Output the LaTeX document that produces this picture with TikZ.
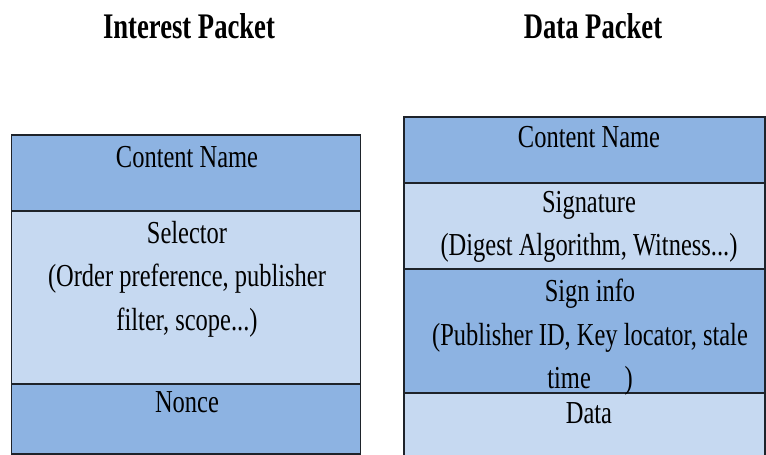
\documentclass[tikz,border=0pt]{standalone}
\usepackage{graphicx}
\usepackage{fontspec}
\setmainfont{Liberation Serif}
\newcommand{\sqz}[1]{\scalebox{0.765}[1]{#1}}
\newcommand{\sqt}[1]{\scalebox{0.74}[1]{#1}}
\definecolor{cellDark}{HTML}{8DB3E2}
\definecolor{cellLight}{HTML}{C6D9F1}
\definecolor{edgeCol}{HTML}{1E232A}
\tikzset{
  cellbox/.style={draw=edgeCol, line width=1.6pt},
  celltext/.style={anchor=north, inner sep=0pt, align=center, text=black,
    font=\fontsize{32}{43.5}\selectfont},
  titletext/.style={anchor=base, inner sep=0pt, text=black,
    font=\bfseries\fontsize{36}{40}\selectfont},
}
\begin{document}
\begin{tikzpicture}[x=1pt, y=-1pt]
\useasboundingbox (0,0) rectangle (766,455);
% titles
\node[titletext] (tInt) at (189,38) {\sqt{Interest Packet}};
\node[titletext] (tData) at (593,38) {\sqt{Data Packet}};
% Interest packet cells
\fill[cellDark]  (11.5,135) rectangle (360.5,211);
\fill[cellLight] (11.5,211) rectangle (360.5,384);
\fill[cellDark]  (11.5,384) rectangle (360.5,454);
\draw[cellbox] (11.5,135) rectangle (360.5,454);
\draw[cellbox] (11.5,211) -- (360.5,211);
\draw[cellbox] (11.5,384) -- (360.5,384);
\node[celltext] (iName) at (187,146) {\sqz{Content Name}};
\node[celltext] (iSel) at (187,221) {\sqz{Selector}\\\sqz{(Order preference, publisher}\\\sqz{filter, scope...)}};
\node[celltext] (iNonce) at (187,391) {\sqz{Nonce}};
% Data packet cells
\fill[cellDark]  (404,117) rectangle (765,183);
\fill[cellLight] (404,183) rectangle (765,269);
\fill[cellDark]  (404,269) rectangle (765,393);
\fill[cellLight] (404,393) rectangle (765,458);
\draw[cellbox] (404,458) -- (404,117) -- (765,117) -- (765,458);
\draw[cellbox] (404,183) -- (765,183);
\draw[cellbox] (404,269) -- (765,269);
\draw[cellbox] (404,393) -- (765,393);
\node[celltext] (dName) at (589,126) {\sqz{Content Name}};
\node[celltext] (dSig) at (589,191) {\sqz{Signature}\\\sqz{(Digest Algorithm, Witness...)}};
\node[celltext] (dInfo) at (590,279) {\sqz{Sign info}\\\sqz{(Publisher ID, Key locator, stale}\\\sqz{time\hspace{44pt})}};
\node[celltext] (dData) at (589,402) {\sqz{Data}};
\end{tikzpicture}
\end{document}
